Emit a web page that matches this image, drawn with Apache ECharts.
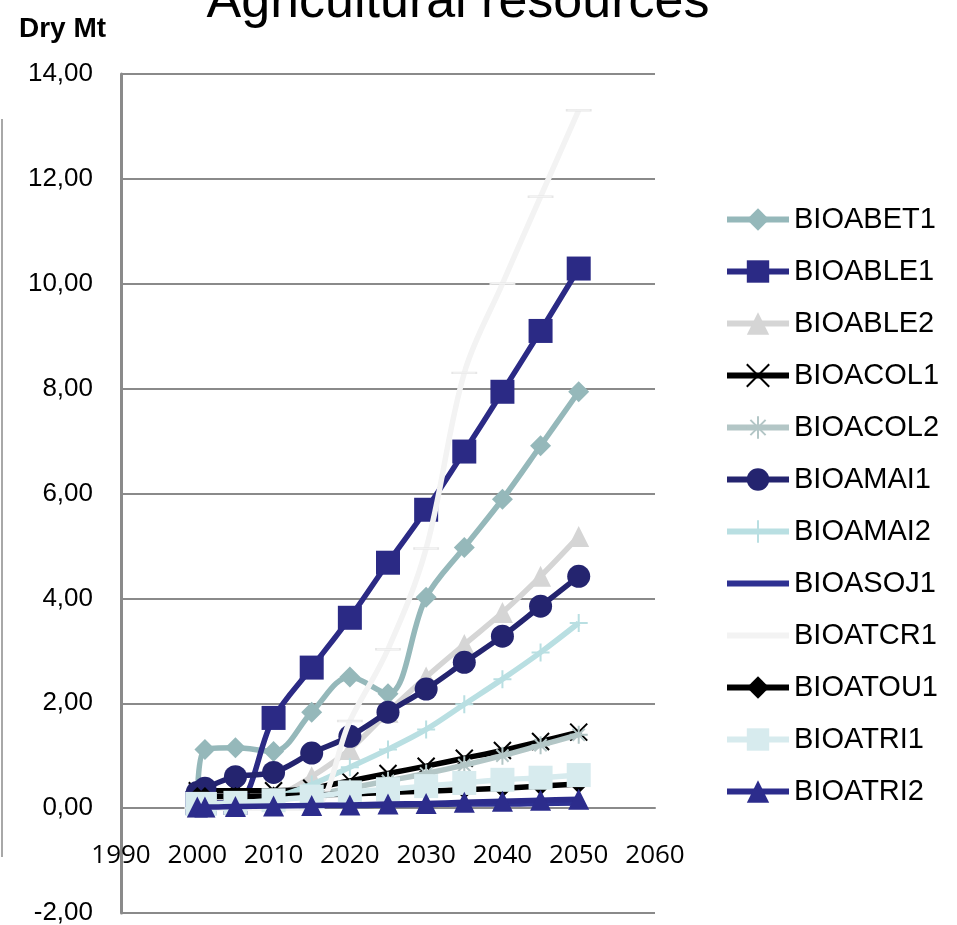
<!DOCTYPE html>
<html>
<head>
<meta charset="utf-8">
<script src="https://cdn.jsdelivr.net/npm/echarts@6/dist/echarts.min.js"></script>
<style>
  html, body { margin: 0; padding: 0; background: #fff; }
  #chart { width: 957px; height: 925px; }
</style>
</head>
<body>
<div id="chart"></div>
<script>
// Years on the horizontal axis
const years = [2000, 2001, 2005, 2010, 2015, 2020, 2025, 2030, 2035, 2040, 2045, 2050];

// Dry matter per resource (Mt)
const BIOABET1 = [0.05, 1.12, 1.15, 1.08, 1.83, 2.50, 2.18, 4.02, 4.97, 5.89, 6.91, 7.94];
const BIOABLE1 = [0.10, 0.10, 0.10, 1.72, 2.68, 3.63, 4.68, 5.69, 6.80, 7.94, 9.10, 10.29];
const BIOABLE2 = [0.02, 0.02, 0.05, 0.20, 0.60, 1.12, 1.83, 2.50, 3.12, 3.73, 4.42, 5.18];
const BIOACOL1 = [0.33, 0.33, 0.33, 0.33, 0.38, 0.52, 0.66, 0.80, 0.95, 1.10, 1.27, 1.45];
const BIOACOL2 = [0.05, 0.05, 0.08, 0.15, 0.25, 0.38, 0.52, 0.66, 0.82, 1.00, 1.20, 1.40];
const BIOAMAI1 = [0.30, 0.38, 0.60, 0.68, 1.05, 1.37, 1.83, 2.27, 2.78, 3.28, 3.85, 4.42];
const BIOAMAI2 = [0.05, 0.05, 0.08, 0.20, 0.45, 0.78, 1.12, 1.50, 1.98, 2.46, 2.97, 3.53];
const BIOASOJ1 = [0.03, 0.03, 0.04, 0.04, 0.05, 0.05, 0.06, 0.07, 0.08, 0.08, 0.09, 0.10];
const BIOATCR1 = [0.00, 0.00, 0.00, 0.00, 0.00, 1.66, 3.03, 4.95, 8.30, 10.00, 11.66, 13.31];
const BIOATOU1 = [0.22, 0.22, 0.22, 0.23, 0.25, 0.27, 0.30, 0.32, 0.35, 0.38, 0.42, 0.46];
const BIOATRI1 = [0.08, 0.08, 0.10, 0.15, 0.22, 0.30, 0.36, 0.42, 0.48, 0.54, 0.58, 0.63];
const BIOATRI2 = [0.02, 0.02, 0.03, 0.04, 0.05, 0.06, 0.08, 0.09, 0.11, 0.13, 0.15, 0.17];

// Axis ticks
const yTicks = { min: -2, max: 14, step: 2 };
const xTicks = { min: 1990, max: 2060, step: 10 };

// Plot box in pixels
const plot = { left: 121, top: 74, right: 302, bottom: 12 };
const plotHeight = 925 - plot.top - plot.bottom;
// distance from the bottom edge (-2) up to the zero line
const zeroOffset = plotHeight * (0 - yTicks.min) / (yTicks.max - yTicks.min);

const crossPath = 'path://M0,0L10,10M10,0L0,10';
const starPath = 'path://M0,5L10,5M5,0L5,10M1.6,1.6L8.4,8.4M8.4,1.6L1.6,8.4';
const plusPath = 'path://M0,5L10,5M5,0L5,10';
const dashPath = 'path://M0,0L22,0L22,6L0,6Z';

const defs = [
  { name: 'BIOABET1', values: BIOABET1, color: '#95b8ba', symbol: 'diamond', size: 21 },
  { name: 'BIOABLE1', values: BIOABLE1, color: '#2b2a85', symbol: 'rect', size: 24 },
  { name: 'BIOABLE2', values: BIOABLE2, color: '#d5d5d5', symbol: 'triangle', size: 21 },
  { name: 'BIOACOL1', values: BIOACOL1, color: '#000000', symbol: crossPath, size: 17, stroke: 2 },
  { name: 'BIOACOL2', values: BIOACOL2, color: '#b3c6c6', symbol: starPath, size: 18, stroke: 2 },
  { name: 'BIOAMAI1', values: BIOAMAI1, color: '#24246f', symbol: 'circle', size: 23 },
  { name: 'BIOAMAI2', values: BIOAMAI2, color: '#b9dfe2', symbol: plusPath, size: 18, stroke: 2 },
  { name: 'BIOASOJ1', values: BIOASOJ1, color: '#2e3192', symbol: 'none', size: 0 },
  { name: 'BIOATCR1', values: BIOATCR1, color: '#f3f3f3', symbol: dashPath, size: [24, 7], border: '#e6e6e6', plainKey: true },
  { name: 'BIOATOU1', values: BIOATOU1, color: '#000000', symbol: 'diamond', size: 19 },
  { name: 'BIOATRI1', values: BIOATRI1, color: '#d7ebee', symbol: 'rect', size: 24 },
  { name: 'BIOATRI2', values: BIOATRI2, color: '#2c2c8c', symbol: 'triangle', size: 21 }
];

const series = defs.map((d, i) => ({
  name: d.name,
  type: 'line',
  z: 2 + i,
  smooth: 0.35,
  data: years.map((yr, k) => [yr, d.values[k]]),
  symbol: d.symbol === 'none' ? 'circle' : d.symbol,
  symbolSize: d.size,
  symbolKeepAspect: true,
  showSymbol: d.symbol !== 'none',
  lineStyle: { color: d.color, width: 5.5 },
  itemStyle: {
    color: d.color,
    borderColor: d.border || d.color,
    borderWidth: d.stroke || (d.border ? 1 : 0),
    opacity: 1
  },
  emphasis: { disabled: true }
}));

// legend entries; markerless (or near-white marker) keys show only their line
const legendItems = defs.map(d => (d.symbol === 'none' || d.plainKey)
  ? { name: d.name, itemStyle: { opacity: 0 } }
  : { name: d.name });

const chart = echarts.init(document.getElementById('chart'), null, { renderer: 'canvas' });

chart.setOption({
  animation: false,
  backgroundColor: '#ffffff',
  grid: { left: plot.left, top: plot.top, right: plot.right, bottom: plot.bottom, containLabel: false, outerBoundsMode: 'none' },
  xAxis: {
    type: 'value',
    position: 'bottom',
    offset: -zeroOffset,
    min: xTicks.min,
    max: xTicks.max,
    interval: xTicks.step,
    axisLine: { show: true, onZero: false, lineStyle: { color: '#8a8a8a', width: 2 } },
    axisTick: { show: false },
    splitLine: { show: false },
    axisLabel: {
      margin: 34,
      color: '#000',
      fontFamily: 'Open Sans',
      fontSize: 26,
      formatter: v => String(v),
      showMinLabel: true,
      showMaxLabel: true
    }
  },
  yAxis: {
    type: 'value',
    min: yTicks.min,
    max: yTicks.max,
    interval: yTicks.step,
    axisLine: { show: true, onZero: false, lineStyle: { color: '#8a8a8a', width: 3 } },
    axisTick: { show: false },
    splitLine: { show: true, lineStyle: { color: '#8a8a8a', width: 2 } },
    axisLabel: {
      margin: 28,
      color: '#000',
      fontFamily: 'Liberation Sans, Arial, sans-serif',
      fontSize: 26,
      formatter: v => v.toFixed(2).replace('.', ',')
    }
  },
  legend: {
    orient: 'vertical',
    left: 719,
    top: 200,
    itemWidth: 62,
    itemHeight: 28,
    itemGap: 23,
    lineStyle: { width: 6 },
    textStyle: {
      color: '#000',
      fontFamily: 'Liberation Sans, Arial, sans-serif',
      fontSize: 29
    },
    data: legendItems
  },
  graphic: [
    {
      type: 'text',
      x: 458, y: 3,
      style: {
        text: 'Agricultural resources',
        font: '52px "Liberation Sans", Arial, sans-serif',
        fill: '#000',
        align: 'center',
        verticalAlign: 'middle'
      }
    },
    {
      type: 'text',
      x: 19, y: 29,
      style: {
        text: 'Dry Mt',
        font: 'bold 28px "Liberation Sans", Arial, sans-serif',
        fill: '#000',
        align: 'left',
        verticalAlign: 'middle'
      }
    },
    {
      type: 'line',
      shape: { x1: 2, y1: 119, x2: 2, y2: 857 },
      style: { stroke: '#a8a8a8', lineWidth: 2 }
    }
  ],
  series: series
});
</script>
</body>
</html>
